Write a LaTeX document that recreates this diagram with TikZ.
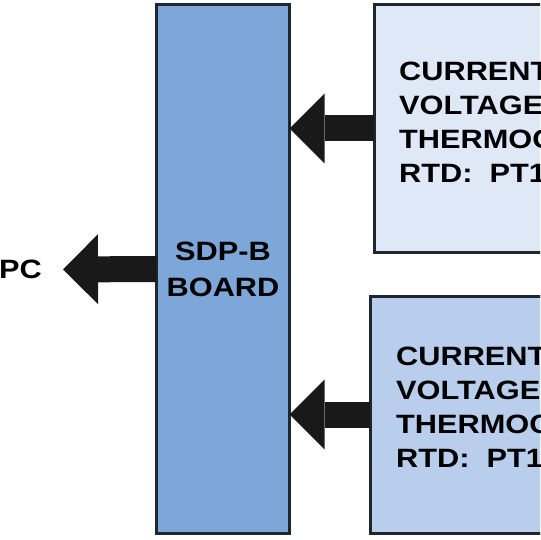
\documentclass[tikz,border=0pt]{standalone}
\usepackage{fontspec}
\setmainfont{Liberation Sans}[FakeStretch=1.16]
\usepackage{tikz}
\usetikzlibrary{positioning,arrows.meta}
\definecolor{boardblue}{RGB}{124,167,216}
\definecolor{sensorlight}{RGB}{222,232,246}
\definecolor{sensormid}{RGB}{185,206,236}
\definecolor{edgegray}{RGB}{32,38,46}
\tikzset{%
board/.style={draw=edgegray,fill=boardblue,line width=3pt,rectangle,outer sep=0pt,
  align=center,font=\fontsize{26.5}{36}\selectfont\bfseries},
sensor/.style={draw=edgegray,line width=3pt,rectangle,outer sep=0pt},
sensortext/.style={inner sep=0pt,anchor=north west,align=left,
  font=\fontsize{26.5}{34}\selectfont\bfseries},
bigarrow/.style={line width=26pt,draw=black!90,
  -{Triangle[length=35pt,width=70pt,line width=0pt]}},
pclabel/.style={inner sep=0pt,font=\fontsize{26.5}{34}\selectfont\bfseries}
}
\begin{document}
\begin{tikzpicture}[x=1pt,y=-1pt]

    \clip (0,0) rectangle (540,540);

    \node[board,minimum width=133pt,minimum height=529pt] (board) at (223,269) {SDP-B\\BOARD};
    \node[sensor,fill=sensorlight,minimum width=206pt,minimum height=247pt] (sens1) at (477,128.5) {};
    \node[sensor,fill=sensormid,minimum width=210pt,minimum height=237pt] (sens2) at (475,414.5) {};

    \node[sensortext] (txt1) at (399,61.5) {CURRENT\\VOLTAGE\\THERMOC\\RTD:\ \ PT1};
    \node[sensortext] (txt2) at (396,347) {CURRENT\\VOLTAGE\\THERMOC\\RTD:\ \ PT1};

    \coordinate (pctip) at (63,269.5);
    \node[pclabel,left=21pt of pctip] (pc) {PC};

    \draw[bigarrow] (sens1.west) -- (sens1.west -| board.east);
    \draw[bigarrow] (sens2.west) -- (sens2.west -| board.east);
    \draw[bigarrow] (board.west) -- (pctip);

\end{tikzpicture}
\end{document}
